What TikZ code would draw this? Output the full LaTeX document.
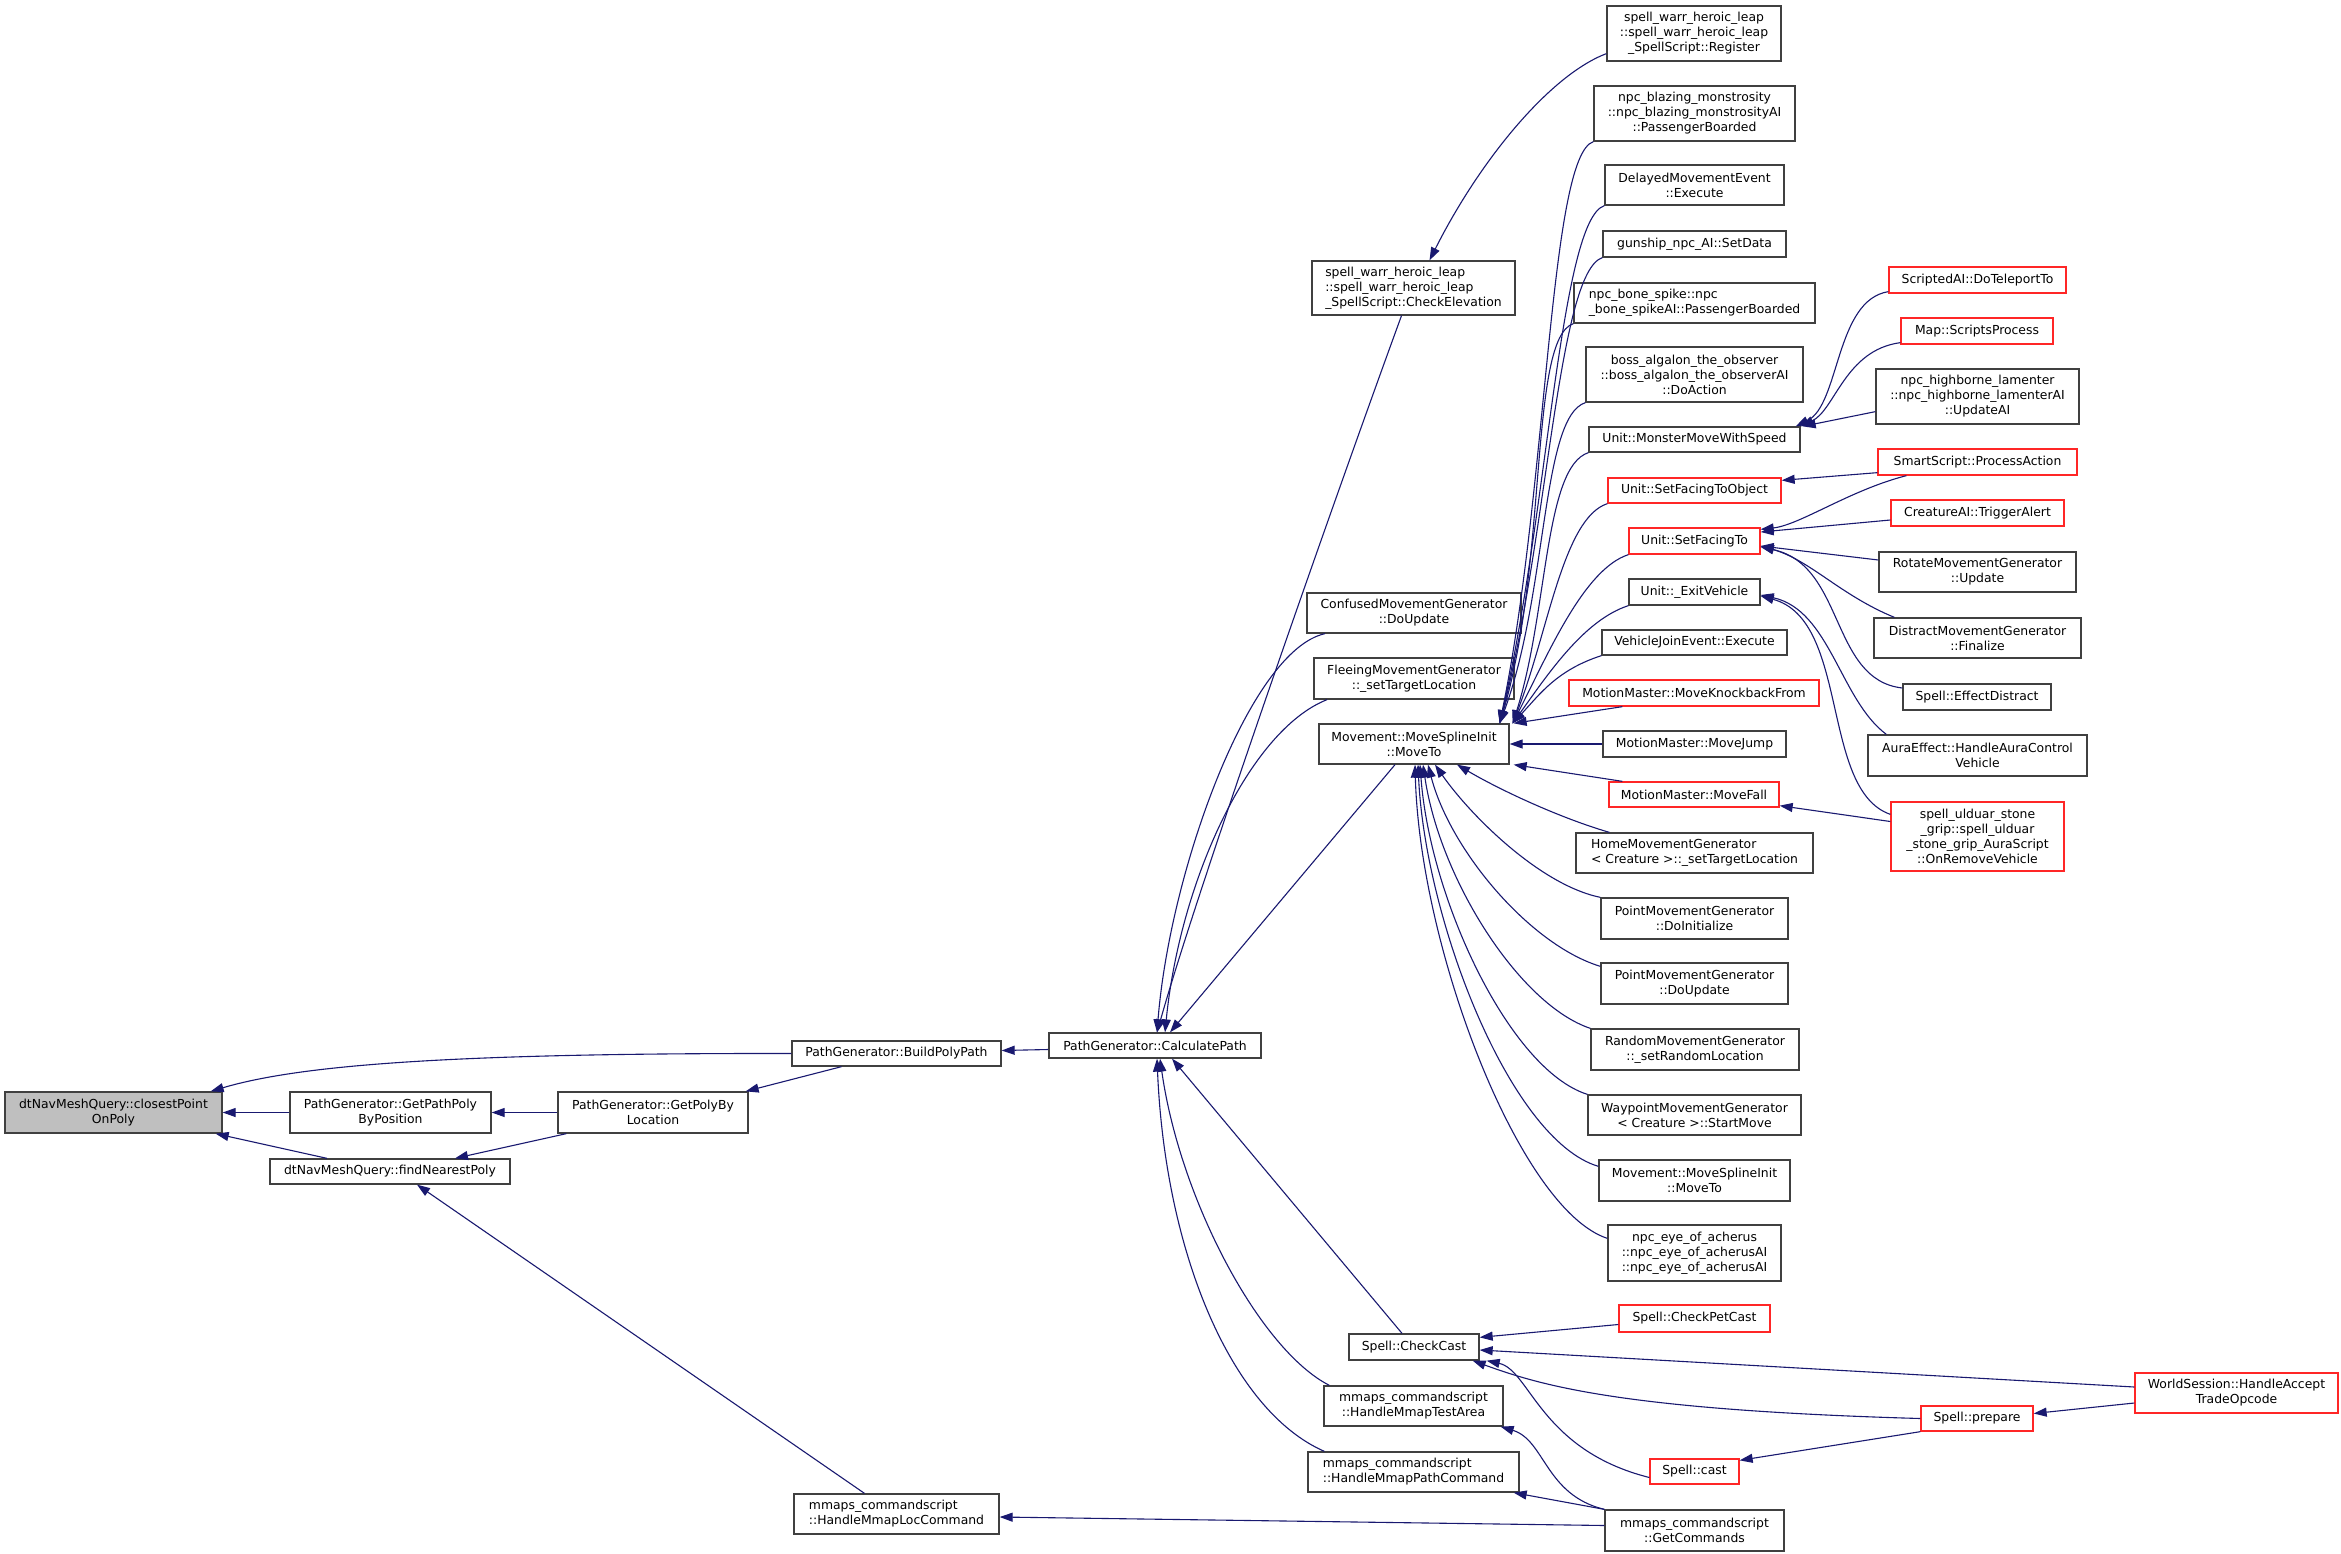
\documentclass[tikz,border=0pt]{standalone}
\usepackage{fontspec}
\setmainfont{DejaVu Sans}
\usetikzlibrary{arrows.meta}

\definecolor{edgeblue}{HTML}{191970}
\definecolor{boxgray}{HTML}{404040}
\definecolor{rootfill}{HTML}{BFBFBF}

\begin{document}
\begin{tikzpicture}[
        x=1pt, y=-1pt,
        func/.style={
            rectangle, draw=boxgray, line width=1.3pt, fill=white,
            align=center, inner sep=0pt, text=black,
            font=\fontsize{12.4}{15}\selectfont
        },
        root/.style={func, fill=rootfill},
        ext/.style={func, draw=red!85!white},
        sz/.style 2 args={minimum width=#1pt, minimum height=#2pt},
        call/.style={{Triangle[length=13pt,width=9pt]}-, draw=edgeblue, line width=1.1pt}
    ]
    \fill[white] (0,0) rectangle (2341,1554);
    \useasboundingbox (0,0) rectangle (2341,1554);

    % Left: the function and its direct callers
    \node[root, sz={217}{41}] (root) at (113.5,1112.5) {dtNavMeshQuery::closestPoint\\OnPoly};
    \node[func, sz={201}{41}] (ppos) at (390.5,1112.5) {PathGenerator::GetPathPoly\\ByPosition};
    \node[func, sz={190}{41}] (ploc) at (653,1112.5) {PathGenerator::GetPolyBy\\Location};
    \node[func, sz={240}{25}] (near) at (390,1171.5) {dtNavMeshQuery::findNearestPoly};
    \node[func, sz={209}{25}] (build) at (896.5,1053.5) {PathGenerator::BuildPolyPath};
    \node[func, sz={205}{40}, align=left] (loc) at (896.5,1514) {mmaps\_commandscript\\::HandleMmapLocCommand};
    \node[func, sz={212}{25}] (calc) at (1155,1045.5) {PathGenerator::CalculatePath};

    % Middle: callers of CalculatePath
    \node[func, sz={203}{54}, align=left] (elev) at (1413.5,288) {spell\_warr\_heroic\_leap\\::spell\_warr\_heroic\_leap\\\_SpellScript::CheckElevation};
    \node[func, sz={214}{40}] (conf) at (1414,613) {ConfusedMovementGenerator\\::DoUpdate};
    \node[func, sz={200}{41}] (flee) at (1414,678.5) {FleeingMovementGenerator\\::\_setTargetLocation};
    \node[func, sz={190}{40}] (mvto) at (1414,744) {Movement::MoveSplineInit\\::MoveTo};
    \node[func, sz={130}{26}] (chk) at (1414,1347) {Spell::CheckCast};
    \node[func, sz={179}{40}] (test) at (1413.5,1406) {mmaps\_commandscript\\::HandleMmapTestArea};
    \node[func, sz={211}{40}, align=left] (pcmd) at (1413.5,1472) {mmaps\_commandscript\\::HandleMmapPathCommand};

    % Right: callers of MoveTo and CheckCast
    \node[func, sz={174}{55}] (reg) at (1694,33.5) {spell\_warr\_heroic\_leap\\::spell\_warr\_heroic\_leap\\\_SpellScript::Register};
    \node[func, sz={201}{55}] (blaz) at (1694.5,113.5) {npc\_blazing\_monstrosity\\::npc\_blazing\_monstrosityAI\\::PassengerBoarded};
    \node[func, sz={179}{40}] (dly) at (1694.5,185) {DelayedMovementEvent\\::Execute};
    \node[func, sz={183}{26}] (gun) at (1694.5,244) {gunship\_npc\_AI::SetData};
    \node[func, sz={241}{40}, align=left] (bone) at (1694.5,303) {npc\_bone\_spike::npc\\\_bone\_spikeAI::PassengerBoarded};
    \node[func, sz={217}{55}] (alg) at (1694.5,374.5) {boss\_algalon\_the\_observer\\::boss\_algalon\_the\_observerAI\\::DoAction};
    \node[func, sz={211}{25}] (mon) at (1694.5,439.5) {Unit::MonsterMoveWithSpeed};
    \node[ext, sz={173}{25}] (sfo) at (1694.5,490.5) {Unit::SetFacingToObject};
    \node[ext, sz={131}{26}] (sft) at (1694.5,541) {Unit::SetFacingTo};
    \node[func, sz={131}{26}] (exv) at (1694.5,592) {Unit::\_ExitVehicle};
    \node[func, sz={185}{25}] (vjo) at (1694.5,642.5) {VehicleJoinEvent::Execute};
    \node[ext, sz={250}{26}] (knk) at (1694,693) {MotionMaster::MoveKnockbackFrom};
    \node[func, sz={183}{26}] (jmp) at (1694.5,744) {MotionMaster::MoveJump};
    \node[ext, sz={170}{25}] (fall) at (1694,794.5) {MotionMaster::MoveFall};
    \node[func, sz={237}{40}, align=left] (home) at (1694.5,853) {HomeMovementGenerator\\< Creature >::\_setTargetLocation};
    \node[func, sz={187}{41}] (pini) at (1694.5,918.5) {PointMovementGenerator\\::DoInitialize};
    \node[func, sz={187}{41}] (pupd) at (1694.5,983.5) {PointMovementGenerator\\::DoUpdate};
    \node[func, sz={208}{41}] (rnd) at (1695,1049.5) {RandomMovementGenerator\\::\_setRandomLocation};
    \node[func, sz={213}{40}] (wayp) at (1694.5,1115) {WaypointMovementGenerator\\< Creature >::StartMove};
    \node[func, sz={191}{41}] (mvto2) at (1694.5,1180.5) {Movement::MoveSplineInit\\::MoveTo};
    \node[func, sz={173}{56}] (eye) at (1694.5,1253) {npc\_eye\_of\_acherus\\::npc\_eye\_of\_acherusAI\\::npc\_eye\_of\_acherusAI};
    \node[ext, sz={151}{27}] (pet) at (1694.5,1318.5) {Spell::CheckPetCast};
    \node[ext, sz={89}{25}] (cast) at (1694.5,1471.5) {Spell::cast};
    \node[func, sz={179}{41}] (getc) at (1694.5,1530.5) {mmaps\_commandscript\\::GetCommands};

    % Far right
    \node[ext, sz={177}{26}] (tele) at (1977.5,280) {ScriptedAI::DoTeleportTo};
    \node[ext, sz={152}{26}] (scr) at (1977,331) {Map::ScriptsProcess};
    \node[func, sz={203}{55}] (hib) at (1977.5,396.5) {npc\_highborne\_lamenter\\::npc\_highborne\_lamenterAI\\::UpdateAI};
    \node[ext, sz={199}{26}] (proc) at (1977.5,462) {SmartScript::ProcessAction};
    \node[ext, sz={173}{26}] (trig) at (1977.5,513) {CreatureAI::TriggerAlert};
    \node[func, sz={197}{40}] (rot) at (1977.5,572) {RotateMovementGenerator\\::Update};
    \node[func, sz={207}{40}] (dist) at (1977.5,638) {DistractMovementGenerator\\::Finalize};
    \node[func, sz={148}{26}] (edis) at (1977,697) {Spell::EffectDistract};
    \node[func, sz={219}{41}] (aura) at (1977.5,755.5) {AuraEffect::HandleAuraControl\\Vehicle};
    \node[ext, sz={173}{69}] (grip) at (1977.5,836.5) {spell\_ulduar\_stone\\\_grip::spell\_ulduar\\\_stone\_grip\_AuraScript\\::OnRemoveVehicle};
    \node[ext, sz={112}{25}] (prep) at (1977,1418.5) {Spell::prepare};
    \node[ext, sz={203}{40}] (ws) at (2236.5,1393) {WorldSession::HandleAccept\\TradeOpcode};

    % Arrows: left part
    \draw[call] ([xshift=-12pt]root.north east) .. controls (300,1065) and (450,1053) .. (build.west);
    \draw[call] (root.east) -- (ppos.west);
    \draw[call] ([xshift=-7pt]root.south east) -- ([xshift=-63pt]near.north);
    \draw[call] (ppos.east) -- (ploc.west);
    \draw[call] ([xshift=65pt]near.north) -- ([xshift=9pt]ploc.south west);
    \draw[call] ([xshift=-3pt]ploc.north east) -- ([xshift=-55pt]build.south);
    \draw[call] ([yshift=3pt]build.east) -- ([yshift=-4pt]calc.west);
    \draw[call] ([xshift=27pt]near.south) -- ([xshift=-32pt]loc.north);
    \draw[call] ([yshift=-3pt]loc.east) -- ([yshift=5pt]getc.west);

    % Arrows: into CalculatePath
    \draw[call] ([xshift=2pt]calc.north) .. controls (1200,880) and (1345,470) .. ([xshift=-12pt]elev.south);
    \draw[call] ([xshift=2pt]calc.north) .. controls (1170,870) and (1250,650) .. ([xshift=-89pt]conf.south);
    \draw[call] ([xshift=10pt]calc.north) .. controls (1180,880) and (1250,730) .. ([xshift=-87pt]flee.south);
    \draw[call] ([xshift=15pt]calc.north) -- ([xshift=-19pt]mvto.south);
    \draw[call] ([xshift=17pt]calc.south) -- ([xshift=-12pt]chk.north);
    \draw[call] ([xshift=5pt]calc.south) .. controls (1180,1200) and (1260,1350) .. ([xshift=6pt]test.north west);
    \draw[call] ([xshift=2pt]calc.south) .. controls (1165,1250) and (1230,1410) .. ([xshift=17pt]pcmd.north west);
    \draw[call] ([xshift=16pt]elev.north) .. controls (1480,160) and (1550,75) .. ([yshift=8pt]reg.south west);

    % Arrows: into MoveTo (bundle from above)
    \draw[call] ([xshift=-10pt]mvto.north east) .. controls (1548,488) and (1549,156) .. (blaz.south west);
    \draw[call] ([xshift=-10pt]mvto.north east) .. controls (1548,514) and (1560,220) .. (dly.south west);
    \draw[call] ([xshift=-10pt]mvto.north east) .. controls (1548,535) and (1558,272) .. (gun.south west);
    \draw[call] ([xshift=-10pt]mvto.north east) .. controls (1548,561) and (1529,338) .. (bone.south west);
    \draw[call] ([xshift=-10pt]mvto.north east) .. controls (1548,593) and (1541,417) .. (alg.south west);
    \draw[call] ([xshift=3pt]mvto.north east) .. controls (1548,613) and (1544,467) .. (mon.south west);
    \draw[call] ([xshift=3pt]mvto.north east) .. controls (1548,633) and (1563,518) .. (sfo.south west);
    \draw[call] ([xshift=3pt]mvto.north east) .. controls (1548,654) and (1584,569) .. (sft.south west);
    \draw[call] ([xshift=3pt]mvto.north east) .. controls (1548,674) and (1584,620) .. (exv.south west);
    \draw[call] ([xshift=3pt]mvto.north east) .. controls (1540,694) and (1557,670) .. (vjo.south west);

    % Arrows: into MoveTo (right and below)
    \draw[call] ([xshift=4pt]mvto.north east) -- ([xshift=54pt]knk.south west);
    \draw[call] (mvto.east) -- (jmp.west);
    \draw[call] ([xshift=4pt]mvto.south east) -- ([xshift=14pt]fall.north west);
    \draw[call] ([xshift=43pt]mvto.south) .. controls (1500,790) and (1560,818) .. ([xshift=34pt]home.north west);
    \draw[call] ([xshift=21pt]mvto.south) .. controls (1470,815) and (1540,885) .. (pini.north west);
    \draw[call] ([xshift=14pt]mvto.south) .. controls (1450,850) and (1530,945) .. ([yshift=-4pt]pupd.north west);
    \draw[call] ([xshift=9pt]mvto.south) .. controls (1440,880) and (1520,1005) .. (rnd.north west);
    \draw[call] ([xshift=6pt]mvto.south) .. controls (1430,900) and (1510,1070) .. (wayp.north west);
    \draw[call] ([xshift=4pt]mvto.south) .. controls (1425,920) and (1510,1140) .. ([yshift=-7pt]mvto2.north west);
    \draw[call] ([xshift=1pt]mvto.south) .. controls (1420,950) and (1520,1210) .. ([yshift=-14pt]eye.north west);

    % Arrows: far right callers
    \draw[call] ([xshift=-5pt]mon.north east) .. controls (1840,405) and (1835,300) .. ([yshift=2pt]tele.south west);
    \draw[call] (mon.north east) .. controls (1835,410) and (1845,350) .. ([yshift=2pt]scr.south west);
    \draw[call] ([xshift=2pt]mon.north east) -- ([yshift=13pt]hib.south west);
    \draw[call] ([yshift=-3pt]sfo.north east) -- ([yshift=3pt]proc.south west);
    \draw[call] ([yshift=-2pt]sft.north east) .. controls (1800,525) and (1850,490) .. ([xshift=29pt]proc.south west);
    \draw[call] ([yshift=9pt]sft.east) -- ([yshift=-7pt]trig.west);
    \draw[call] ([yshift=-5pt]sft.east) -- ([yshift=12pt]rot.west);
    \draw[call] ([yshift=-5pt]sft.east) .. controls (1810,560) and (1840,595) .. ([xshift=21pt]dist.north west);
    \draw[call] ([yshift=-6pt]sft.east) .. controls (1845,565) and (1830,680) .. ([yshift=9pt]edis.west);
    \draw[call] ([yshift=-3pt]exv.east) .. controls (1830,610) and (1840,700) .. ([xshift=19pt]aura.north west);
    \draw[call] ([yshift=-4pt]exv.east) .. controls (1850,620) and (1820,790) .. ([yshift=-13pt]grip.north west);
    \draw[call] ([yshift=2pt]fall.south east) -- ([yshift=15pt]grip.west);

    % Arrows: into CheckCast
    \draw[call] ([yshift=-4pt]chk.north east) -- ([yshift=-6pt]pet.west);
    \draw[call] ([yshift=-3pt]chk.east) -- ([yshift=6pt]ws.west);
    \draw[call] ([xshift=-7pt]chk.south east) .. controls (1540,1385) and (1620,1410) .. (prep.west);
    \draw[call] ([xshift=7pt]chk.south east) .. controls (1530,1370) and (1540,1450) .. ([yshift=-6pt]cast.west);
    \draw[call] ([yshift=-2pt]cast.north east) -- (prep.south west);
    \draw[call] ([yshift=5pt]prep.east) -- ([yshift=-10pt]ws.west);

    % Arrows: GetCommands
    \draw[call] ([xshift=-3pt]test.south east) .. controls (1545,1440) and (1545,1495) .. (getc.north west);
    \draw[call] ([xshift=-6pt]pcmd.south east) -- (getc.north west);
\end{tikzpicture}
\end{document}
